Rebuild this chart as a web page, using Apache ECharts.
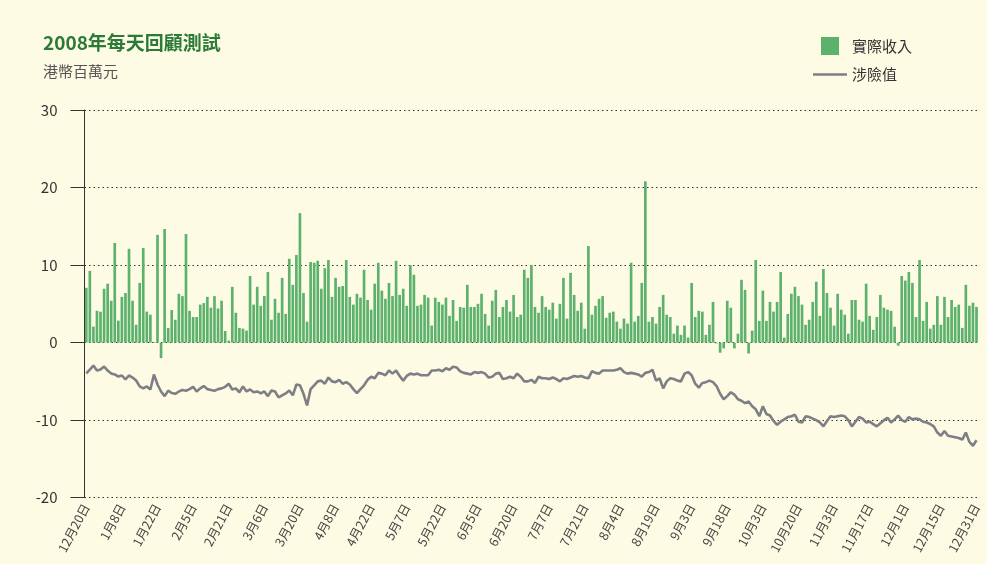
<!DOCTYPE html>
<html>
<head>
<meta charset="utf-8">
<script src="https://cdn.jsdelivr.net/npm/echarts@6/dist/echarts.min.js"></script>
<style>
html,body{margin:0;padding:0;background:#fdfbe3;}
#c{width:987px;height:564px;}
</style>
</head>
<body>
<div id="c"></div>
<script>
const dates = [
"12月20日","12月21日","12月24日","12月27日","12月28日","12月31日",
"1月2日","1月3日","1月4日","1月7日","1月8日","1月9日","1月10日","1月11日","1月14日","1月15日","1月16日","1月17日","1月18日","1月21日","1月22日","1月23日","1月24日","1月25日","1月28日","1月29日","1月30日","1月31日",
"2月1日","2月4日","2月5日","2月6日","2月11日","2月12日","2月13日","2月14日","2月15日","2月18日","2月19日","2月20日","2月21日","2月22日","2月25日","2月26日","2月27日","2月28日","2月29日",
"3月3日","3月4日","3月5日","3月6日","3月7日","3月10日","3月11日","3月12日","3月13日","3月14日","3月17日","3月18日","3月19日","3月20日","3月25日","3月26日","3月27日","3月28日","3月31日",
"4月1日","4月2日","4月3日","4月7日","4月8日","4月9日","4月10日","4月11日","4月14日","4月15日","4月16日","4月17日","4月18日","4月21日","4月22日","4月23日","4月24日","4月25日","4月28日","4月29日","4月30日",
"5月2日","5月5日","5月6日","5月7日","5月8日","5月9日","5月13日","5月14日","5月15日","5月16日","5月19日","5月20日","5月21日","5月22日","5月23日","5月26日","5月27日","5月28日","5月29日","5月30日",
"6月2日","6月3日","6月4日","6月5日","6月6日","6月10日","6月11日","6月12日","6月13日","6月16日","6月17日","6月18日","6月19日","6月20日","6月23日","6月24日","6月25日","6月26日","6月27日","6月30日",
"7月2日","7月3日","7月4日","7月7日","7月8日","7月9日","7月10日","7月11日","7月14日","7月15日","7月16日","7月17日","7月18日","7月21日","7月22日","7月23日","7月24日","7月25日","7月28日","7月29日","7月30日","7月31日",
"8月1日","8月4日","8月5日","8月7日","8月8日","8月11日","8月12日","8月13日","8月14日","8月15日","8月18日","8月19日","8月20日","8月21日","8月25日","8月26日","8月27日","8月28日","8月29日",
"9月1日","9月2日","9月3日","9月4日","9月5日","9月8日","9月9日","9月10日","9月11日","9月12日","9月16日","9月17日","9月18日","9月19日","9月22日","9月23日","9月24日","9月25日","9月26日","9月29日","9月30日",
"10月2日","10月3日","10月6日","10月8日","10月9日","10月10日","10月13日","10月14日","10月15日","10月16日","10月17日","10月20日","10月21日","10月22日","10月23日","10月24日","10月27日","10月28日","10月29日","10月30日","10月31日",
"11月3日","11月4日","11月5日","11月6日","11月7日","11月10日","11月11日","11月12日","11月13日","11月14日","11月17日","11月18日","11月19日","11月20日","11月21日","11月24日","11月25日","11月26日","11月27日","11月28日",
"12月1日","12月2日","12月3日","12月4日","12月5日","12月8日","12月9日","12月10日","12月11日","12月12日","12月15日","12月16日","12月17日","12月18日","12月19日","12月22日","12月23日","12月24日","12月29日","12月30日","12月31日"
];

const actualRevenue = [
7.07,9.25,2.06,4.1,3.98,6.94,7.6,5.4,12.85,2.83,5.9,6.4,12.1,5.4,2.3,7.7,12.2,4.0,3.6,0.1,
13.9,-2.0,14.65,1.9,4.2,2.95,6.3,6.0,14.0,4.1,3.3,3.3,4.9,5.1,5.9,4.5,6.0,4.4,5.4,1.5,0.25,
7.2,3.85,1.9,1.8,1.55,8.6,4.9,7.2,4.75,6.0,9.1,2.95,5.65,3.85,8.35,3.7,10.8,7.45,11.3,16.7,6.4,
2.7,10.4,10.3,10.55,6.95,9.6,10.65,5.9,8.35,7.2,7.3,10.65,5.9,4.9,6.3,5.8,9.4,5.5,4.25,7.6,10.3,
6.7,5.65,7.7,6.0,10.55,6.15,6.95,4.75,10.0,8.75,4.75,4.9,6.15,5.8,2.2,5.8,5.25,4.9,5.8,3.45,5.5,
2.8,4.6,4.5,7.45,4.6,4.6,5.0,6.3,3.7,2.2,5.4,6.8,3.3,4.6,5.5,4.0,6.15,3.3,3.6,9.4,8.35,
10.0,4.6,3.85,6.0,4.6,4.25,5.15,3.1,5.0,8.35,3.1,9.0,6.15,4.1,5.15,1.8,12.45,3.6,4.75,5.65,6.0,
3.2,3.85,4.0,2.7,1.8,3.1,2.45,10.3,2.7,3.45,7.7,20.8,2.7,3.3,2.45,4.6,6.15,3.6,3.3,1.15,2.2,
1.0,2.2,0.65,7.7,3.3,4.1,4.0,1.0,2.3,5.25,-0.1,-1.3,-0.75,5.4,4.5,-0.75,1.15,8.1,6.8,-1.4,1.55,
10.65,2.8,6.7,2.8,5.25,4.0,5.25,9.1,0.65,3.7,6.3,7.2,6.0,4.9,2.3,2.95,5.25,7.85,3.45,9.5,6.4,
4.5,2.2,6.3,4.25,3.6,1.15,5.5,5.5,2.95,2.7,7.6,3.45,1.65,3.3,6.15,4.5,4.25,4.1,2.05,-0.4,8.6,
8.0,9.1,7.7,3.3,10.65,2.8,5.25,1.8,2.3,6.0,2.3,5.9,3.3,5.5,4.6,4.9,1.9,7.45,4.75,5.15,4.6
];

const valueAtRisk = [
-3.98,-3.47,-2.96,-3.6,-3.47,-3.08,-3.6,-3.98,-4.1,-4.37,-4.24,-4.75,-4.24,-4.5,-4.88,-5.65,-5.9,-5.65,-6.04,-4.11,
-5.4,-6.3,-6.9,-6.2,-6.5,-6.6,-6.3,-6.1,-6.2,-6.0,-5.7,-6.3,-5.9,-5.6,-6.0,-6.1,-6.2,-6.0,-5.9,-5.7,-5.3,
-6.04,-5.9,-6.4,-5.65,-6.3,-6.04,-6.4,-6.3,-6.55,-6.3,-6.9,-6.17,-6.3,-7.07,-6.8,-6.55,-6.17,-6.8,-5.4,-5.5,-6.6,
-8.1,-6.0,-5.5,-5.0,-4.9,-5.3,-4.5,-5.0,-5.1,-4.8,-5.3,-5.1,-5.4,-6.0,-6.5,-6.0,-5.5,-4.8,-4.4,-4.6,-3.9,
-4.0,-4.2,-3.6,-4.0,-3.6,-4.3,-4.9,-4.3,-4.0,-4.1,-4.0,-4.2,-4.2,-4.2,-3.6,-3.6,-3.5,-3.7,-3.3,-3.5,-3.1,
-3.2,-3.7,-3.9,-4.0,-4.1,-3.8,-3.9,-3.8,-4.0,-4.5,-4.4,-4.0,-3.9,-4.7,-4.6,-4.4,-4.6,-4.0,-4.4,-5.0,-5.0,
-4.8,-5.2,-4.4,-4.6,-4.6,-4.7,-4.5,-4.7,-5.0,-4.6,-4.7,-4.5,-4.3,-4.4,-4.3,-4.5,-4.6,-3.7,-3.9,-4.0,-3.6,
-3.6,-3.6,-3.6,-3.5,-3.3,-3.8,-4.0,-3.9,-4.0,-4.1,-4.4,-3.9,-3.8,-3.5,-4.9,-4.6,-5.9,-5.0,-4.6,-4.7,-4.9,
-5.0,-4.0,-3.8,-4.2,-5.3,-5.8,-5.2,-5.1,-4.9,-5.1,-5.6,-6.6,-7.3,-6.9,-6.4,-6.7,-7.3,-7.5,-7.8,-7.6,-8.2,
-8.6,-9.5,-8.2,-9.2,-9.4,-10.1,-10.6,-10.2,-9.9,-9.6,-9.5,-9.3,-10.2,-10.3,-9.5,-9.6,-9.8,-10.0,-10.3,-10.8,-10.1,
-9.5,-9.6,-9.5,-9.4,-9.5,-10.0,-10.8,-10.2,-9.6,-9.8,-10.3,-10.2,-10.5,-10.8,-10.4,-10.0,-9.7,-10.3,-9.9,-9.4,-10.0,
-10.2,-9.6,-9.9,-9.8,-9.9,-10.2,-10.3,-10.5,-10.8,-11.6,-12.0,-11.4,-12.0,-12.1,-12.2,-12.3,-12.5,-11.6,-12.8,-13.3,-12.6
];

const yTicks = { min: -20, max: 30, step: 10 };
const FONT = '"Noto Sans CJK TC","Noto Sans",sans-serif';

const chart = echarts.init(document.getElementById('c'), null, { renderer: 'canvas' });
chart.setOption({
  backgroundColor: '#fdfbe3',
  animation: false,
  title: {
    text: '2008年每天回顧測試',
    subtext: '港幣百萬元',
    left: 38, top: 28,
    itemGap: 12,
    textStyle: { fontFamily: FONT, fontSize: 19, fontWeight: 'bold', color: '#2b7a38' },
    subtextStyle: { fontFamily: FONT, fontSize: 15, color: '#555' }
  },
  legend: {
    orient: 'vertical',
    right: 70, top: 32,
    itemGap: 12,
    itemWidth: 34, itemHeight: 18,
    textStyle: { fontFamily: FONT, fontSize: 15, color: '#333' },
    data: [
      { name: '實際收入', icon: 'path://M9,0H28V19H9Z' },
      { name: '涉險值', icon: 'path://M0,0H34V2.6H0Z', itemStyle: { color: '#7e7f86' } }
    ]
  },
  grid: { left: 84.5, right: 8.7, top: 110, bottom: 66.3 },
  xAxis: {
    type: 'category',
    data: dates,
    boundaryGap: true,
    axisLine: { show: false },
    axisTick: { show: false },
    axisLabel: { interval: 9, rotate: 62, fontFamily: FONT, fontSize: 12.5, color: '#444', margin: 7 },
    splitLine: { show: false }
  },
  yAxis: {
    type: 'value',
    min: yTicks.min, max: yTicks.max, interval: yTicks.step,
    axisLine: { show: true, lineStyle: { color: '#333', width: 1 } },
    axisTick: { show: true, length: 14, lineStyle: { color: '#333' } },
    axisLabel: { fontFamily: FONT, fontSize: 15, color: '#333', margin: 27 },
    splitLine: { show: true, lineStyle: { type: [1.5, 3], color: '#333', width: 1.2 } }
  },
  series: [
    {
      name: '實際收入', type: 'bar', data: actualRevenue,
      barCategoryGap: '25%',
      itemStyle: { color: '#5cb16c' }
    },
    {
      name: '涉險值', type: 'line', data: valueAtRisk,
      symbol: 'none',
      lineStyle: { color: '#7e7f86', width: 2.6 },
      itemStyle: { color: '#7e7f86' }
    }
  ]
});
</script>
</body>
</html>
